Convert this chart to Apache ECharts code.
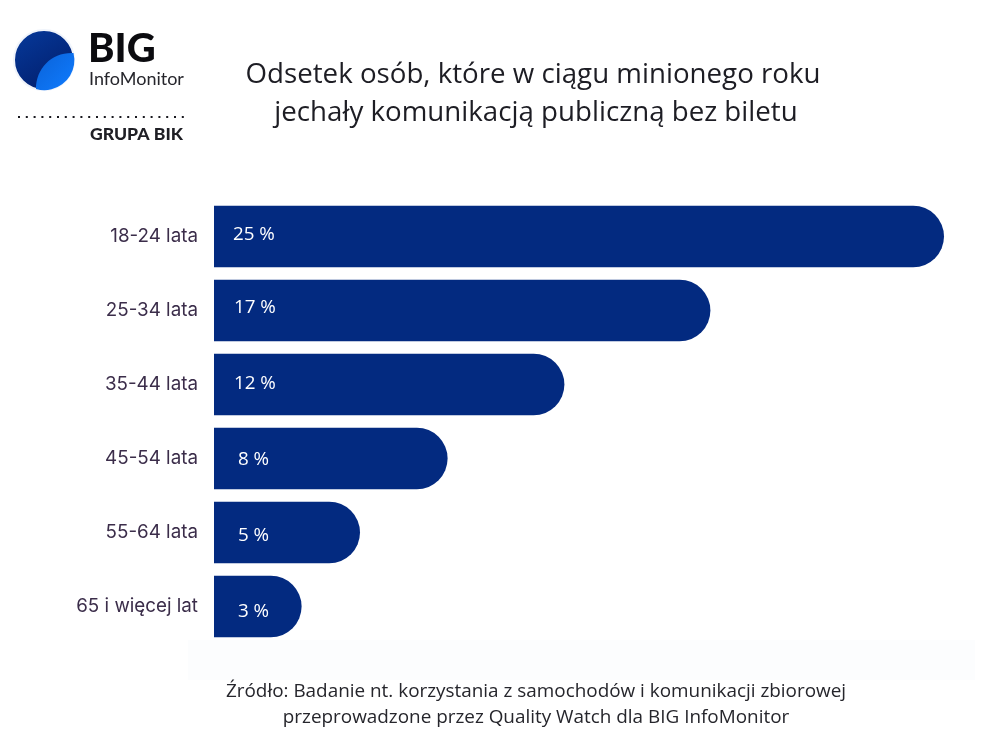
<!DOCTYPE html>
<html>
<head>
<meta charset="utf-8">
<title>Odsetek osób bez biletu</title>
<style>
  html, body { margin: 0; padding: 0; background: #fff; }
  #chart { width: 1000px; height: 744px; }
</style>
<script src="https://cdn.jsdelivr.net/npm/echarts@6/dist/echarts.min.js"></script>
</head>
<body>
<div id="chart"></div>
<script>
var categories = ['18-24 lata', '25-34 lata', '35-44 lata', '45-54 lata', '55-64 lata', '65 i więcej lat'];
var values = [25, 17, 12, 8, 5, 3];
var titleLines = ['Odsetek osób, które w ciągu minionego roku', 'jechały komunikacją publiczną bez biletu'];
var sourceLines = ['Źródło: Badanie nt. korzystania z samochodów i komunikacji zbiorowej', 'przeprowadzone przez Quality Watch dla BIG InfoMonitor'];

// value labels sit a bit off-centre in the original
var labelShift = [[19, -2], [20, -3], [20, -1], [24, 1], [24, 3], [24, 5]];

var barData = values.map(function (v, i) {
    return { value: v, label: { offset: labelShift[i] } };
});

// lighter part of the logo
echarts.graphic.registerShape('logoLeaf', echarts.graphic.extendPath(
    'M73.5 53 A30 30 0 0 1 36 89 C36 68 52 52 73.5 53 Z'
));

function text(x, y, str, font, fill, align) {
    return {
        type: 'text', x: x, y: y, silent: true,
        style: { text: str, font: font, fill: fill, textAlign: align || 'left', textVerticalAlign: 'middle' }
    };
}

var chart = echarts.init(document.getElementById('chart'));
chart.setOption({
    backgroundColor: '#ffffff',
    animation: false,
    grid: { left: 214, top: 199.5, width: 730, height: 444 },
    xAxis: { type: 'value', min: 0, max: 25, show: false },
    yAxis: {
        type: 'category',
        data: categories,
        inverse: true,
        axisLine: { show: false },
        axisTick: { show: false },
        axisLabel: {
            margin: 16,
            fontFamily: 'Inter',
            fontSize: 18.8,
            color: '#3b2d4a',
            verticalAlign: 'middle',
            padding: [0, 0, 4, 0]
        }
    },
    series: [{
        type: 'bar',
        data: barData,
        barWidth: 61.5,
        itemStyle: { color: '#032a80', borderRadius: [0, 31, 31, 0] },
        label: {
            show: true,
            position: 'insideLeft',
            distance: 0,
            formatter: '{c} %',
            fontFamily: 'Open Sans',
            fontSize: 18.8,
            color: '#ffffff'
        }
    }],
    graphic: [
        { type: 'rect', z: -1, silent: true, shape: { x: 188, y: 640, width: 787, height: 40 }, style: { fill: '#fcfdfe' } },
        {
            type: 'circle', silent: true, shape: { cx: 44, cy: 60, r: 30 },
            style: {
                fill: new echarts.graphic.LinearGradient(0, 0, 0.6, 1, [
                    { offset: 0, color: '#063a9c' },
                    { offset: 1, color: '#021f6e' }
                ]),
                stroke: '#f0f4fb', lineWidth: 2
            }
        },
        {
            type: 'logoLeaf', silent: true,
            style: {
                fill: new echarts.graphic.LinearGradient(0, 0, 1, 1, [
                    { offset: 0, color: '#0a62d8' },
                    { offset: 1, color: '#0f7cff' }
                ])
            }
        },
        text(88, 49, 'BIG', '900 40px Lato', '#0b0b0f'),
        text(89, 79, 'InfoMonitor', '18px Lato', '#26262c'),
        {
            type: 'line', silent: true,
            shape: { x1: 18, y1: 117, x2: 184, y2: 117 },
            style: { stroke: '#18181e', lineWidth: 2.2, lineDash: [2, 5.8] }
        },
        text(183, 134, 'GRUPA BIK', '900 17.6px Lato', '#1f1f25', 'right'),
        text(533, 75, titleLines[0], '27.7px "Open Sans"', '#1d1d24', 'center'),
        text(536, 113, titleLines[1], '27.7px "Open Sans"', '#1d1d24', 'center'),
        text(536, 692, sourceLines[0], '18.9px "Open Sans"', '#26262c', 'center'),
        text(536, 718, sourceLines[1], '18.9px "Open Sans"', '#26262c', 'center')
    ]
});
</script>
</body>
</html>
